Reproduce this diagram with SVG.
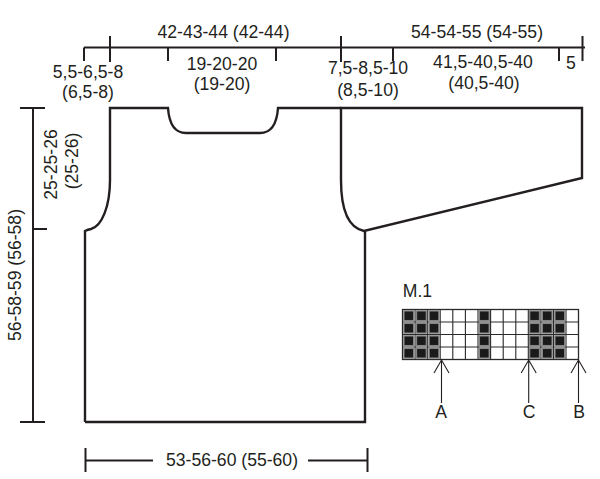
<svg xmlns="http://www.w3.org/2000/svg" width="600" height="479" viewBox="0 0 600 479">
<style>
text{font-family:"Liberation Sans",Arial,sans-serif;font-size:17.6px;fill:#231f20;text-anchor:middle}
.l{fill:none;stroke:#231f20;stroke-width:2}
.s{fill:none;stroke:#231f20;stroke-width:2.4}
.a{fill:none;stroke:#231f20;stroke-width:1.1}
.g{fill:none;stroke:#2a2a2a;stroke-width:1.1}
.b{fill:#1a1a1a;stroke:#858585;stroke-width:1.3}
.w{fill:#fff;stroke:#2a2a2a;stroke-width:1.3}
</style>
<defs>
<rect id="k" class="b" width="9.800" height="9.700"/>
<path id="ar" class="a" d="M0 0V43M-7.500 13L0 0L7.500 13"/>
</defs>
<g id="connectors">
<path class="l" d="M84 47.500V61M84 47.500H585M110 36V62M168 47.500V61M276 47.500V61M341 36V62M393 47.500V61M559 47.500V61M582.500 36V61"/>
<path class="l" d="M20 108H45M33 108V422M20 422H45M33 229H47"/>
<path class="l" d="M85.500 448V472M85.500 460.500H153M308 460.500H367.500M367.500 448V472"/>
</g>
<g id="body"><path class="s" d="M85 422V231Q88 229.500 91 229C102 226 110 206 110 180V108H168C169 122 174 133 186 133H260C272 133 277 122 278 108H341M85 422H365V230"/></g>
<g id="sleeve"><path class="s" d="M341 108H582V178L364 231C350 228 341 212 341 180V108Z"/></g>
<g id="labels">
<text x="223.500" y="38">42-43-44 (42-44)</text>
<text x="477" y="38">54-54-55 (54-55)</text>
<text x="88" y="78">5,5-6,5-8</text><text x="88" y="98">(6,5-8)</text>
<text x="222" y="70">19-20-20</text><text x="222" y="90">(19-20)</text>
<text x="368" y="74">7,5-8,5-10</text><text x="368" y="96">(8,5-10)</text>
<text x="483" y="68">41,5-40,5-40</text><text x="484" y="89">(40,5-40)</text>
<text x="571" y="69">5</text>
<text transform="translate(57 164.500) rotate(-90)">25-25-26</text>
<text transform="translate(78 161) rotate(-90)">(25-26)</text>
<text transform="translate(21 275) rotate(-90)">56-58-59 (56-58)</text>
<text x="232" y="466">53-56-60 (55-60)</text>
</g>
<g id="chart">
<text x="417.500" y="296.500">M.1</text>
<g>
<rect class="w" x="402.500" y="309.500" width="176" height="50"/>
<path class="g" d="M415.100 309.500V359.500M427.700 309.500V359.500M440.200 309.500V359.500M452.800 309.500V359.500M465.400 309.500V359.500M478 309.500V359.500M490.600 309.500V359.500M503.200 309.500V359.500M515.800 309.500V359.500M528.300 309.500V359.500M540.900 309.500V359.500M553.500 309.500V359.500M566 309.500V359.500M402.500 322H578.500M402.500 334.500H578.500M402.500 347H578.500"/>
<use href="#k" x="403.900" y="310.900"/><use href="#k" x="416.500" y="310.900"/><use href="#k" x="429.100" y="310.900"/><use href="#k" x="479.400" y="310.900"/><use href="#k" x="529.700" y="310.900"/><use href="#k" x="542.300" y="310.900"/><use href="#k" x="554.900" y="310.900"/>
<use href="#k" x="403.900" y="323.400"/><use href="#k" x="416.500" y="323.400"/><use href="#k" x="429.100" y="323.400"/><use href="#k" x="479.400" y="323.400"/><use href="#k" x="529.700" y="323.400"/><use href="#k" x="542.300" y="323.400"/><use href="#k" x="554.900" y="323.400"/>
<use href="#k" x="403.900" y="335.900"/><use href="#k" x="416.500" y="335.900"/><use href="#k" x="429.100" y="335.900"/><use href="#k" x="479.400" y="335.900"/><use href="#k" x="529.700" y="335.900"/><use href="#k" x="542.300" y="335.900"/><use href="#k" x="554.900" y="335.900"/>
<use href="#k" x="403.900" y="348.400"/><use href="#k" x="416.500" y="348.400"/><use href="#k" x="429.100" y="348.400"/><use href="#k" x="479.400" y="348.400"/><use href="#k" x="529.700" y="348.400"/><use href="#k" x="542.300" y="348.400"/><use href="#k" x="554.900" y="348.400"/>
</g>
<use href="#ar" x="441.500" y="360"/><use href="#ar" x="528.700" y="360"/><use href="#ar" x="578.500" y="360"/>
<text x="441" y="418">A</text><text x="529" y="418">C</text><text x="579" y="418">B</text>
</g>
</svg>
